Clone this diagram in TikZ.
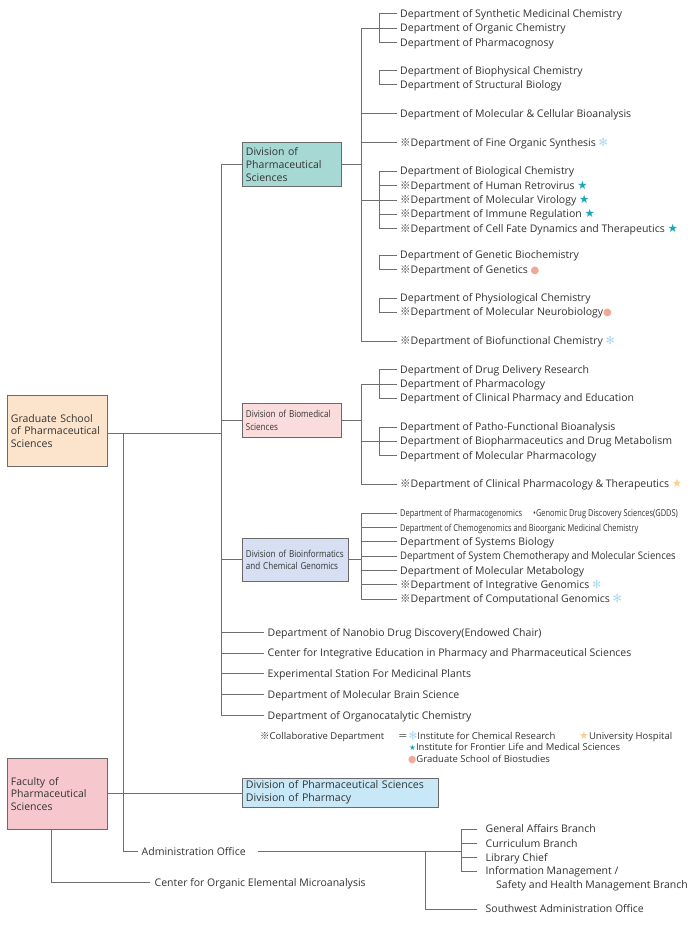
\documentclass[tikz,border=0pt]{standalone}
\usepackage{fontspec}
\usepackage{graphicx}
\setmainfont{Open Sans}
\newfontfamily\cjk{Noto Sans CJK JP}
\newfontfamily\dejavu{DejaVu Sans}
\usetikzlibrary{calc}
\definecolor{txt}{HTML}{333333}
\definecolor{lnc}{HTML}{6E6E6E}
\definecolor{bxc}{HTML}{6A6A6A}
\definecolor{cgrad}{HTML}{FCE3CB}
\definecolor{cdone}{HTML}{A6D8D4}
\definecolor{cdtwo}{HTML}{FADCDC}
\definecolor{cdthree}{HTML}{D6E0F2}
\definecolor{cfac}{HTML}{F6C8CE}
\definecolor{cblue}{HTML}{C8E8F8}
\definecolor{astc}{HTML}{A8D8F2}
\definecolor{starc}{HTML}{1AA8B8}
\definecolor{dotc}{HTML}{F2A898}
\definecolor{ostarc}{HTML}{F8D090}
\newcommand\mainsz{\fontsize{10.5}{12.5}\selectfont}
\newcommand\rmk{{\cjk ※}}
\newcommand\mast{{\color{astc}\dejavu\scalebox{1.05}{✻}}}
\newcommand\mstar{{\color{starc}\dejavu\scalebox{1.1}{★}}}
\newcommand\mdot{{\color{dotc}\dejavu\scalebox{0.95}{●}}}
\newcommand\ostar{{\color{ostarc}\dejavu\scalebox{1.1}{★}}}
\newcommand\narrow[1]{{\fontsize{9.5}{10}\selectfont\scalebox{0.785}[1]{#1}}}
\newcommand\boxnarrow[1]{{\fontsize{9.6}{13.5}\selectfont\scalebox{0.84}[1]{#1}}}
\tikzset{
  ln/.style={draw=lnc, line width=1pt},
  dept/.style={anchor=west, inner xsep=3.5pt, inner ysep=0pt, text height=7.4pt, text depth=0pt, text=txt, font=\mainsz},
  legend/.style={dept, inner xsep=0pt, text height=6.6pt, font=\fontsize{9.5}{11}\selectfont},
  orgbox/.style={draw=bxc, line width=0.8pt, anchor=north west, align=left, inner xsep=3.5pt, inner ysep=2pt, text=txt, font=\mainsz},
}
\begin{document}
\begin{tikzpicture}[x=1pt,y=-1pt]
\useasboundingbox (0,0) rectangle (700,931);
\fill[white] (0,0) rectangle (700,931);
% reference verticals
\coordinate (mv) at (221,0);
\coordinate (dv) at (361,0);
\coordinate (sv) at (379,0);
\coordinate (ov) at (123,0);
\coordinate (av) at (425,0);
\coordinate (bv) at (461,0);
\coordinate (gy) at (0,433);
\coordinate (ae) at (258,851.5);

% boxes
\node[orgbox, fill=cgrad, text width=93pt, minimum height=71pt, font=\fontsize{10.5}{12.7}\selectfont] (grad) at (7,395) {Graduate School\\of Pharmaceutical\\Sciences};
\node[orgbox, fill=cdone, text width=92pt, minimum height=44pt, font=\fontsize{10.5}{13}\selectfont] (d1) at (242,142) {Division of\\Pharmaceutical\\Sciences};
\node[orgbox, fill=cdtwo, text width=92pt, minimum height=34pt] (d2) at (242,403) {\boxnarrow{Division of Biomedical}\\\boxnarrow{Sciences}};
\node[orgbox, fill=cdthree, text width=99pt, minimum height=43pt] (d3) at (242,538) {\boxnarrow{Division of Bioinformatics}\\\boxnarrow{and Chemical Genomics}};
\node[orgbox, fill=cfac, text width=92.5pt, minimum height=71pt, font=\fontsize{10.5}{12.7}\selectfont] (fac) at (7,758) {Faculty of\\Pharmaceutical\\Sciences};
\node[orgbox, fill=cblue, text width=188.5pt, minimum height=29pt, font=\fontsize{10.6}{13}\selectfont] (blue) at (242,777.5) {Division of Pharmaceutical Sciences\\Division of Pharmacy};

% Division 1 departments
\node[dept] (p1) at (396.5,14) {Department of Synthetic Medicinal Chemistry};
\node[dept] (p2) at (396.5,28.3) {Department of Organic Chemistry};
\node[dept] (p3) at (396.5,42.5) {Department of Pharmacognosy};
\node[dept] (p4) at (396.5,71) {Department of Biophysical Chemistry};
\node[dept] (p5) at (396.5,85) {Department of Structural Biology};
\node[dept] (p6) at (396.5,114) {Department of Molecular \& Cellular Bioanalysis};
\node[dept] (p7) at (396.5,142.5) {\rmk Department of Fine Organic Synthesis \mast};
\node[dept] (p8) at (396.5,171) {Department of Biological Chemistry};
\node[dept] (p9) at (396.5,185.5) {\rmk Department of Human Retrovirus \mstar};
\node[dept] (p10) at (396.5,200) {\rmk Department of Molecular Virology \mstar};
\node[dept] (p11) at (396.5,214) {\rmk Department of Immune Regulation \mstar};
\node[dept] (p12) at (396.5,228.5) {\rmk Department of Cell Fate Dynamics and Therapeutics \mstar};
\node[dept] (p13) at (396.5,255) {Department of Genetic Biochemistry};
\node[dept] (p14) at (396.5,269.5) {\rmk Department of Genetics \mdot};
\node[dept] (p15) at (396.5,298) {Department of Physiological Chemistry};
\node[dept] (p16) at (396.5,312) {\rmk Department of Molecular Neurobiology\mdot};
\node[dept] (p17) at (396.5,341) {\rmk Department of Biofunctional Chemistry \mast};

% Division 2 departments
\node[dept] (m1) at (396.5,369.5) {Department of Drug Delivery Research};
\node[dept] (m2) at (396.5,384) {Department of Pharmacology};
\node[dept] (m3) at (396.5,398) {Department of Clinical Pharmacy and Education};
\node[dept] (m4) at (396.5,427) {Department of Patho-Functional Bioanalysis};
\node[dept] (m5) at (396.5,441) {Department of Biopharmaceutics and Drug Metabolism};
\node[dept] (m6) at (396.5,455.5) {Department of Molecular Pharmacology};
\node[dept] (m7) at (396.5,484) {\rmk Department of Clinical Pharmacology \& Therapeutics \ostar};

% Division 3 departments
\node[dept, text height=6.6pt] (b1) at (396.5,513.3) {\narrow{Department of Pharmacogenomics}};
\node[dept, text height=6.6pt, inner xsep=0pt] (b1g) at (533,513.3) {\narrow{•Genomic Drug Discovery Sciences(GDDS)}};
\node[dept, text height=6.6pt] (b2) at (396.5,527.7) {\narrow{Department of Chemogenomics and Bioorganic Medicinal Chemistry}};
\node[dept] (b3) at (396.5,541.7) {Department of Systems Biology};
\node[dept] (b4) at (396.5,556) {\scalebox{0.91}[1]{Department of System Chemotherapy and Molecular Sciences}};
\node[dept] (b5) at (396.5,570.3) {Department of Molecular Metabology};
\node[dept] (b6) at (396.5,584.7) {\rmk Department of Integrative Genomics \mast};
\node[dept] (b7) at (396.5,599) {\rmk Department of Computational Genomics \mast};

% other graduate school units
\node[dept] (o1) at (264,632.3) {Department of Nanobio Drug Discovery(Endowed Chair)};
\node[dept] (o2) at (264,653) {Center for Integrative Education in Pharmacy and Pharmaceutical Sciences};
\node[dept] (o3) at (264,673.7) {Experimental Station For Medicinal Plants};
\node[dept] (o4) at (264,694.7) {Department of Molecular Brain Science};
\node[dept] (o5) at (264,715.3) {Department of Organocatalytic Chemistry};

% legend
\node[legend] (lg0) at (260,735.7) {\rmk Collaborative Department};
\node[legend] (lgeq) at (398,735.7) {{\cjk ＝}};
\node[legend] (lg1) at (408.5,735.7) {{\color{astc}\dejavu\scalebox{1.1}{✻}}Institute for Chemical Research};
\node[legend] (lg2) at (579,735.7) {{\color{ostarc}\dejavu\scalebox{1.15}{★}}University Hospital};
\node[legend] (lg3) at (409,747.3) {{\color{starc}\dejavu\scalebox{0.8}{★}}Institute for Frontier Life and Medical Sciences};
\node[legend] (lg4) at (408,758.7) {{\color{dotc}\dejavu\scalebox{1.0}{●}}Graduate School of Biostudies};

% administration
\node[dept] (adm) at (138,851.5) {Administration Office};
\node[dept, inner xsep=5pt] (cen) at (149.5,882.7) {Center for Organic Elemental Microanalysis};
\node[dept, inner xsep=8.5pt] (s1) at (477,829) {General Affairs Branch};
\node[dept, inner xsep=8.5pt] (s2) at (477,843.3) {Curriculum Branch};
\node[dept, inner xsep=8.5pt] (s3) at (477,857.3) {Library Chief};
\node[dept, inner xsep=8.5pt] (s4) at (477,871) {Information Management /};
\node[dept, inner xsep=0pt] (s4b) at (496,885) {Safety and Health Management Branch};
\node[dept, inner xsep=8.5pt] (s5) at (477,909) {Southwest Administration Office};

% ---- connectors ----
% graduate school trunk
\draw[ln] (grad.east |- gy) -- (mv |- gy);
\draw[ln] (d1.west -| mv) -- (o5.west -| mv) -- (o5.west);
\draw[ln] (d1.west) -- (d1.west -| mv);
\draw[ln] (d2.west) -- (d2.west -| mv);
\draw[ln] (d3.west) -- (d3.west -| mv);
\foreach \n in {o1,o2,o3,o4} \draw[ln] (\n.west) -- (\n.west -| mv);

% division 1
\draw[ln] (d1.east) -- (d1.east -| dv);
\draw[ln] (p2.west -| dv) -- (p17.west -| dv) -- (p17.west);
\draw[ln] (p2.west) -- (p2.west -| dv);
\draw[ln] (p1.west) -| (p3.west -| sv) -- (p3.west);
\draw[ln] (p4.west) -| (p5.west -| sv) -- (p5.west);
\draw[ln] ($(p4.west)!0.5!(p5.west)$ -| sv) -- ($(p4.west)!0.5!(p5.west)$ -| dv);
\draw[ln] (p6.west) -- (p6.west -| dv);
\draw[ln] (p7.west) -- (p7.west -| dv);
\draw[ln] (p8.west) -| (p12.west -| sv) -- (p12.west);
\draw[ln] (p9.west) -- (p9.west -| sv);
\draw[ln] (p10.west) -- (p10.west -| dv);
\draw[ln] (p11.west) -- (p11.west -| sv);
\draw[ln] (p13.west) -| (p14.west -| sv) -- (p14.west);
\draw[ln] ($(p13.west)!0.5!(p14.west)$ -| sv) -- ($(p13.west)!0.5!(p14.west)$ -| dv);
\draw[ln] (p15.west) -| (p16.west -| sv) -- (p16.west);
\draw[ln] ($(p15.west)!0.5!(p16.west)$ -| sv) -- ($(p15.west)!0.5!(p16.west)$ -| dv);

% division 2
\draw[ln] (d2.east) -- (d2.east -| dv);
\draw[ln] (m2.west -| dv) -- (m7.west -| dv) -- (m7.west);
\draw[ln] (m1.west) -| (m3.west -| sv) -- (m3.west);
\draw[ln] (m2.west) -- (m2.west -| dv);
\draw[ln] (m4.west) -| (m6.west -| sv) -- (m6.west);
\draw[ln] (m5.west) -- (m5.west -| dv);

% division 3
\draw[ln] (d3.east) -- (d3.east -| dv);
\draw[ln] (b1.west) -| (b7.west -| dv) -- (b7.west);
\foreach \n in {b2,b3,b4,b5,b6} \draw[ln] (\n.west) -- (\n.west -| dv);

% faculty
\draw[ln] (fac.east) -- (fac.east -| blue.west);
\draw[ln] ([xshift=-5.7pt]fac.south) |- (cen.west);

% administration
\draw[ln] (ov |- gy) -- (ov |- adm.west) -- (adm.west);
\draw[ln] (ae) -- (ae -| bv);
\draw[ln] (ae -| av) |- (s5.west);
\draw[ln] (s1.west) -| (s4.west -| bv) -- (s4.west);
\draw[ln] (s2.west) -- (s2.west -| bv);
\draw[ln] (s3.west) -- (s3.west -| bv);
\end{tikzpicture}
\end{document}
